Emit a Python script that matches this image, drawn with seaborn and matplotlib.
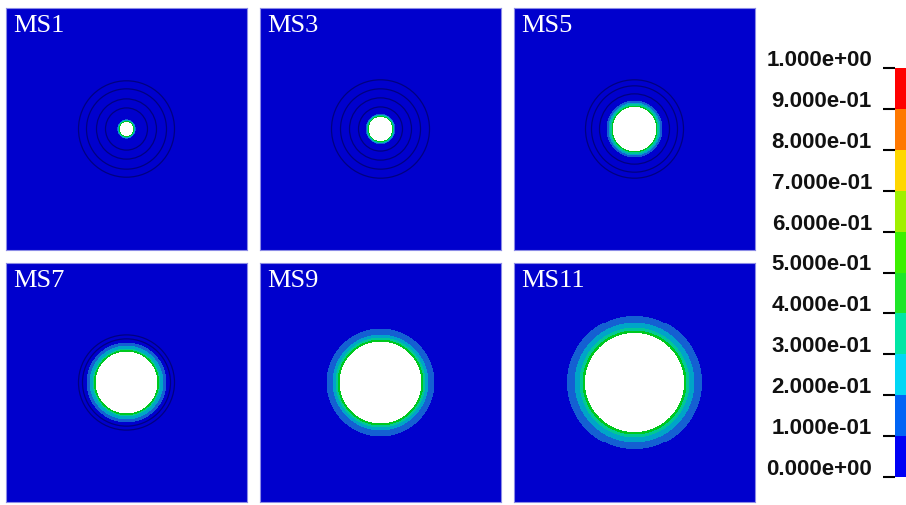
import numpy as np
import seaborn as sns
import matplotlib.pyplot as plt
from matplotlib.colors import ListedColormap
from matplotlib.patches import Circle

# ---- data -------------------------------------------------------------
panel_names = ["MS1", "MS3", "MS5", "MS7", "MS9", "MS11"]
# radius of the removed (fully damaged) core, in cells
hole_radius = [6.5, 11.7, 21.7, 31.0, 41.0, 49.5]
# outer radius of each damage band: 0.4-0.5, 0.3-0.4, 0.2-0.3, 0.1-0.2
band_04 = [7.3, 12.6, 23.0, 32.6, 43.0, 52.0]
band_03 = [8.0, 13.3, 24.5, 34.0, 45.0, 55.0]
band_02 = [8.6, 14.0, 26.0, 37.0, 48.0, 60.0]
band_01 = [9.2, 14.6, 28.0, 40.0, 54.0, 67.5]
band_levels = [0.45, 0.35, 0.25, 0.15]
# radii of the dark contour iso-lines drawn in each panel
contour_radii = [
    [21, 30, 40, 48],
    [22, 31, 40, 49],
    [35, 43, 49],
    [44, 48],
    [],
    [],
]
# colour scale
cbar_values = [0.0, 0.1, 0.2, 0.3, 0.4, 0.5, 0.6, 0.7, 0.8, 0.9, 1.0]
cbar_labels = ["0.000e+00", "1.000e-01", "2.000e-01", "3.000e-01",
               "4.000e-01", "5.000e-01", "6.000e-01", "7.000e-01",
               "8.000e-01", "9.000e-01", "1.000e+00"]
cbar_colors = ["#0000F5", "#0064F5", "#00D7F5", "#00E6A5", "#1EE628",
               "#3CF000", "#A0F000", "#FFD700", "#FF7800", "#FF0000"]
# shaded colours of the lowest five levels as rendered on the model
panel_colors = ["#0000CD", "#1460D2", "#00A5C8", "#00C896", "#00C81E"]

# ---- figure -----------------------------------------------------------
sns.set_theme(style="white")
plt.rcParams["font.family"] = ["Liberation Sans", "DejaVu Sans"]

W, H = 906, 505
fig = plt.figure(figsize=(W / 100, H / 100), dpi=100)


def px_axes(x0, y0, x1, y1):
    return fig.add_axes([x0 / W, 1 - y1 / H, (x1 - x0) / W, (y1 - y0) / H])


col_x = [(6, 247), (260, 501), (514, 755)]
row_y = [(8, 250), (263, 502)]

n = 241
coord = np.arange(n) - (n - 1) / 2
radius = np.hypot(coord[None, :], coord[:, None])
panel_cmap = ListedColormap(panel_colors)

for k, name in enumerate(panel_names):
    (x0, x1), (y0, y1) = col_x[k % 3], row_y[k // 3]
    ax = px_axes(x0, y0, x1, y1)

    field = np.full(radius.shape, 0.05)
    for lev, outer in zip(band_levels[::-1],
                          [band_01[k], band_02[k], band_03[k], band_04[k]]):
        field[radius < outer] = lev
    field[radius < hole_radius[k]] = np.nan

    sns.heatmap(field, ax=ax, cmap=panel_cmap, vmin=0.0, vmax=0.5,
                cbar=False, xticklabels=False, yticklabels=False)
    for rr in contour_radii[k]:
        ax.add_patch(Circle((n / 2, n / 2), rr, fill=False,
                            edgecolor="#000080", linewidth=0.9))
    for sp in ax.spines.values():
        sp.set_visible(True)
        sp.set_color("#8C8CE6")
        sp.set_linewidth(0.8)
    ax.annotate(name, xy=(0, 1), xycoords="axes fraction",
                xytext=(7 * 0.72, -7 * 0.72), textcoords="offset points",
                ha="left", va="top", color="white", fontsize=19,
                family=["Liberation Serif", "DejaVu Serif"])

# ---- colour bar -------------------------------------------------------
cax = px_axes(895, 68, 906, 477)
levels = np.array(cbar_values[:-1]) + 0.05
sns.heatmap(levels[::-1].reshape(-1, 1), ax=cax,
            cmap=ListedColormap(cbar_colors), vmin=0.0, vmax=1.0,
            cbar=False, xticklabels=False, yticklabels=False)
nlev = len(levels)
tick_pos = [(1 - v) * nlev for v in cbar_values]
cax.set_yticks(tick_pos)
cax.set_yticklabels([])
cax.tick_params(axis="y", left=True, length=12 * 0.72, width=1.5,
                color="black", direction="out", pad=0)
for v, lab in zip(tick_pos, cbar_labels):
    cax.annotate(lab, xy=(0, v), xycoords=("axes fraction", "data"),
                 xytext=(-23 * 0.72, 2 * 0.72), textcoords="offset points",
                 ha="right", va="baseline", fontsize=16, fontweight="bold",
                 color="#111111", annotation_clip=False)

fig.savefig("out.png", dpi=100)
